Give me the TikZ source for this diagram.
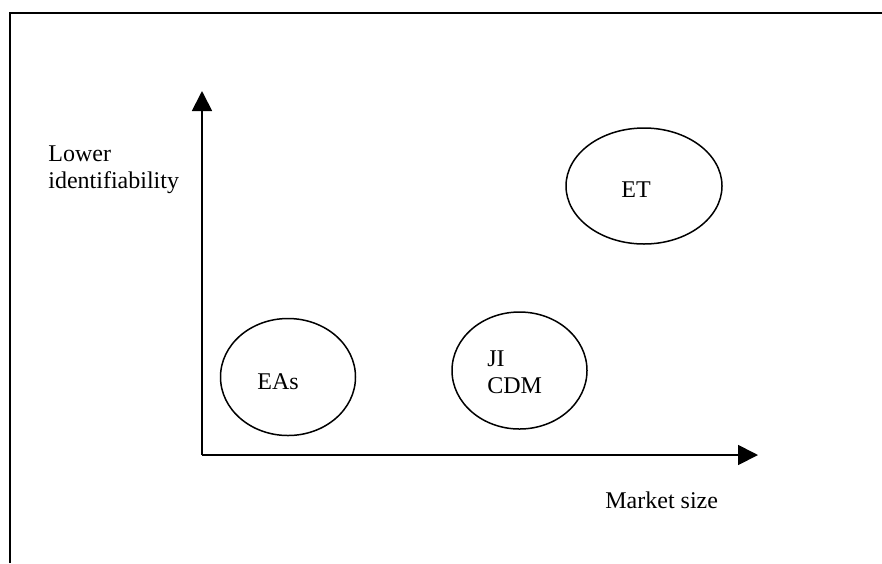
\documentclass[tikz,border=0pt]{standalone}
\usepackage{fontspec}
\setmainfont{Liberation Serif}
\usetikzlibrary{positioning,calc,arrows.meta,shapes.geometric}
\newcommand*{\txt}{\fontsize{12}{13.8}\selectfont}

\begin{document}
\begin{tikzpicture}[x=0.5pt,y=-0.5pt,
  blob/.style={draw,ellipse,line width=0.75pt,inner sep=0pt},
  lbl/.style={inner sep=0pt,font=\txt,align=left},
  axis/.style={line width=0.9pt,-{Triangle[width=10pt,length=10pt]}}]
\useasboundingbox (0,0) rectangle (882,563);
% Frame, open on the right and at the bottom
\coordinate (fb) at (10,563);
\coordinate (fc) at (10,13);
\coordinate (fr) at (882,13);
\draw[line width=1pt] (fb) -- (fc) -- (fr);
% Axes
\coordinate (o) at (202,455);
\coordinate (ytop) at (202,91);
\coordinate (xend) at (758,455);
\draw[axis] (o) -- (ytop);
\draw[axis] (o) -- (xend);
% Groups
\node[blob,minimum width=67.5pt,minimum height=58.5pt] (eas) at (288,377) {};
\node[blob,minimum width=67.5pt,minimum height=58.5pt] (jicdm) at (519.5,370.5) {};
\node[blob,minimum width=78pt,minimum height=58pt] (et) at (644,186) {};
% Texts
\node[lbl] (easlbl) at ([xshift=-5pt,yshift=-2.5pt]eas.center) {EAs};
\node[lbl,anchor=north west] (jicdmlbl) at (487,350) {JI\\CDM};
\node[lbl] (etlbl) at ([xshift=-4pt,yshift=-2pt]et.center) {ET};
\node[lbl,anchor=north west] (ylbl) at (48,145) {Lower\\identifiability};
\node[lbl,anchor=west] (xlbl) at (605,500) {Market size};
\end{tikzpicture}
\end{document}
